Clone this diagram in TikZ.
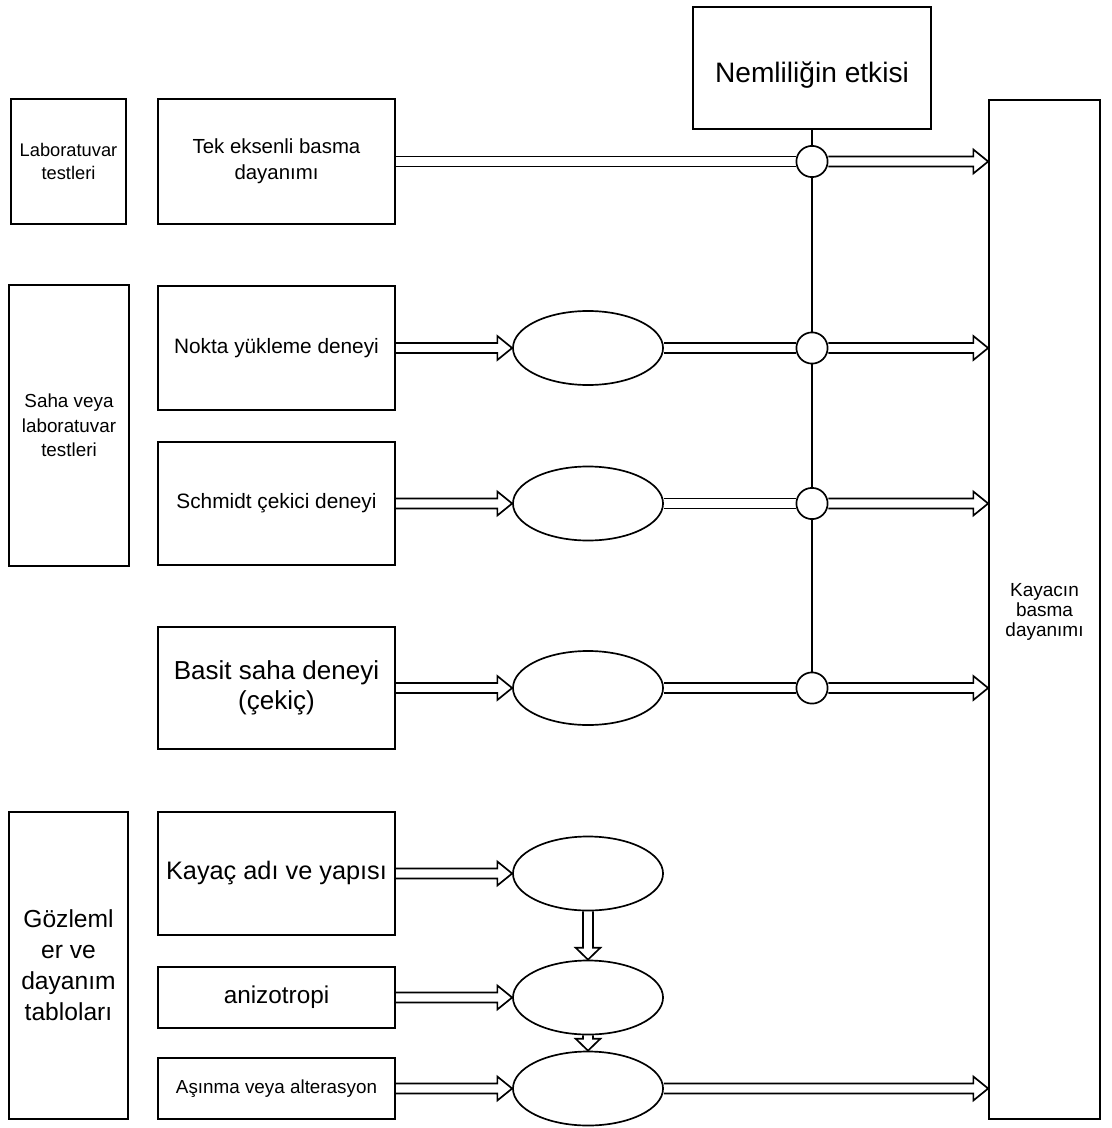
\documentclass[tikz,border=0pt]{standalone}
\usepackage{fontspec}
\setmainfont{Liberation Sans}
\usetikzlibrary{calc,shapes.geometric}

\begin{document}
\begin{tikzpicture}[x=0.025cm, y=-0.025cm, line width=1.2pt,
        box/.style={draw, align=center, inner sep=0pt},
        oval/.style={draw, ellipse, minimum width=3.75cm, minimum height=1.85cm, inner sep=0pt},
        ring/.style={draw, circle, fill=white, minimum size=0.78cm, inner sep=0pt},
        twin/.style={to path={let \p1=(\tikztostart), \p2=(\tikztotarget) in
            (\x1,\y1+3.5pt) -- (\x2,\y1+3.5pt) (\x1,\y1-3.5pt) -- (\x2,\y1-3.5pt)}},
        hollow/.style={to path={let \p1=(\tikztostart), \p2=(\tikztotarget) in
            (\x1,\y1+3.5pt) -- (\x2-10.5pt,\y1+3.5pt) -- (\x2-10.5pt,\y1+8.5pt) -- (\x2,\y1)
            -- (\x2-10.5pt,\y1-8.5pt) -- (\x2-10.5pt,\y1-3.5pt) -- (\x1,\y1-3.5pt)}},
        hollowdown/.style={to path={let \p1=(\tikztostart), \p2=(\tikztotarget) in
            (\x1-3.5pt,\y1) -- (\x1-3.5pt,\y2+8.5pt) -- (\x1-8.8pt,\y2+8.5pt) -- (\x1,\y2)
            -- (\x1+8.8pt,\y2+8.5pt) -- (\x1+3.5pt,\y2+8.5pt) -- (\x1+3.5pt,\y1)}}]
    \useasboundingbox (0,0) rectangle (1111,1128);

    % left column
    \node[box, minimum width=2.875cm, minimum height=3.125cm, font={\fontsize{13}{16.5}\selectfont}]
        (lab) at (68.5,161.5) {Laboratuvar\\testleri};
    \node[box, minimum width=3cm, minimum height=7.025cm, font={\fontsize{13.4}{17.5}\selectfont}]
        (saha) at (69,425.5) {Saha veya\\laboratuvar\\testleri};
    \node[box, minimum width=2.975cm, minimum height=7.675cm, font={\fontsize{17.5}{22}\selectfont}]
        (gozlem) at (68.5,965.5) {Gözleml\\er ve\\dayanım\\tabloları};

    % tests
    \node[box, minimum width=5.925cm, minimum height=3.125cm, font={\fontsize{14.5}{18.5}\selectfont}]
        (tek) at (276.5,161.5) {Tek eksenli basma\\dayanımı};
    \node[box, minimum width=5.925cm, minimum height=3.1cm, font={\fontsize{14.8}{16}\selectfont}]
        (nokta) at (276.5,348) {Nokta yükleme deneyi};
    \node[box, minimum width=5.925cm, minimum height=3.075cm, font={\fontsize{14.8}{16}\selectfont}]
        (schmidt) at (276.5,503.5) {Schmidt çekici deneyi};
    \node[box, minimum width=5.925cm, minimum height=3.05cm, font={\fontsize{18.5}{21}\selectfont}]
        (basit) at (276.5,688) {Basit saha deneyi\\(çekiç)};
    \node[box, minimum width=5.925cm, minimum height=3.075cm, font={\fontsize{18}{20}\selectfont}]
        (kayac) at (276.5,873.5) {Kayaç adı ve yapısı};
    \node[box, minimum width=5.925cm, minimum height=1.525cm, font={\fontsize{17.3}{19}\selectfont}]
        (aniz) at (276.5,997.5) {anizotropi};
    \node[box, minimum width=5.925cm, minimum height=1.525cm, font={\fontsize{13.4}{15}\selectfont}]
        (asin) at (276.5,1088.5) {Aşınma veya alterasyon};

    % ovals
    \node[oval] (e1) at (588,348) {};
    \node[oval] (e2) at (588,503.5) {};
    \node[oval] (e3) at (588,688) {};
    \node[oval] (e4) at (588,873.5) {};
    \node[oval] (e5) at (588,997.5) {};
    \node[oval] (e6) at (588,1088.5) {};

    % moisture
    \node[box, minimum width=5.95cm, minimum height=3.05cm] (nem) at (812,68) {};
    \node[font={\fontsize{20}{22}\selectfont}] (nemtext) at (812,75) {Nemliliğin etkisi};
    \node[ring] (c1) at (812,161.5) {};
    \node[ring] (c2) at (812,348) {};
    \node[ring] (c3) at (812,503.5) {};
    \node[ring] (c4) at (812,688) {};

    \node[box, minimum width=2.775cm, minimum height=25.475cm] (kb) at (1044.5,609.5) {};
    \node[font={\fontsize{13.5}{14.5}\selectfont}, align=center] (kbtext) at (1044.5,612)
        {Kayacın\\basma\\dayanımı};

    \draw (c1 |- nem.south) -- (c1.north);
    \draw (c1.south) -- (c2.north);
    \draw (c2.south) -- (c3.north);
    \draw (c3.south) -- (c4.north);

    \draw (tek.east) to[twin] (c1.west);
    \draw (c1.east) to[hollow] (c1 -| kb.west);

    \draw (nokta.east) to[hollow] (e1.west);
    \draw (e1.east) to[twin] (c2.west);
    \draw (c2.east) to[hollow] (c2 -| kb.west);

    \draw (schmidt.east) to[hollow] (e2.west);
    \draw (e2.east) to[twin] (c3.west);
    \draw (c3.east) to[hollow] (c3 -| kb.west);

    \draw (basit.east) to[hollow] (e3.west);
    \draw (e3.east) to[twin] (c4.west);
    \draw (c4.east) to[hollow] (c4 -| kb.west);

    \draw (kayac.east) to[hollow] (e4.west);
    \draw (aniz.east) to[hollow] (e5.west);
    \draw (asin.east) to[hollow] (e6.west);
    \draw (e6.east) to[hollow] (e6 -| kb.west);

    \draw (e4.south) to[hollowdown] (e5.north);
    \draw (e5.south) to[hollowdown] (e6.north);
\end{tikzpicture}
\end{document}
